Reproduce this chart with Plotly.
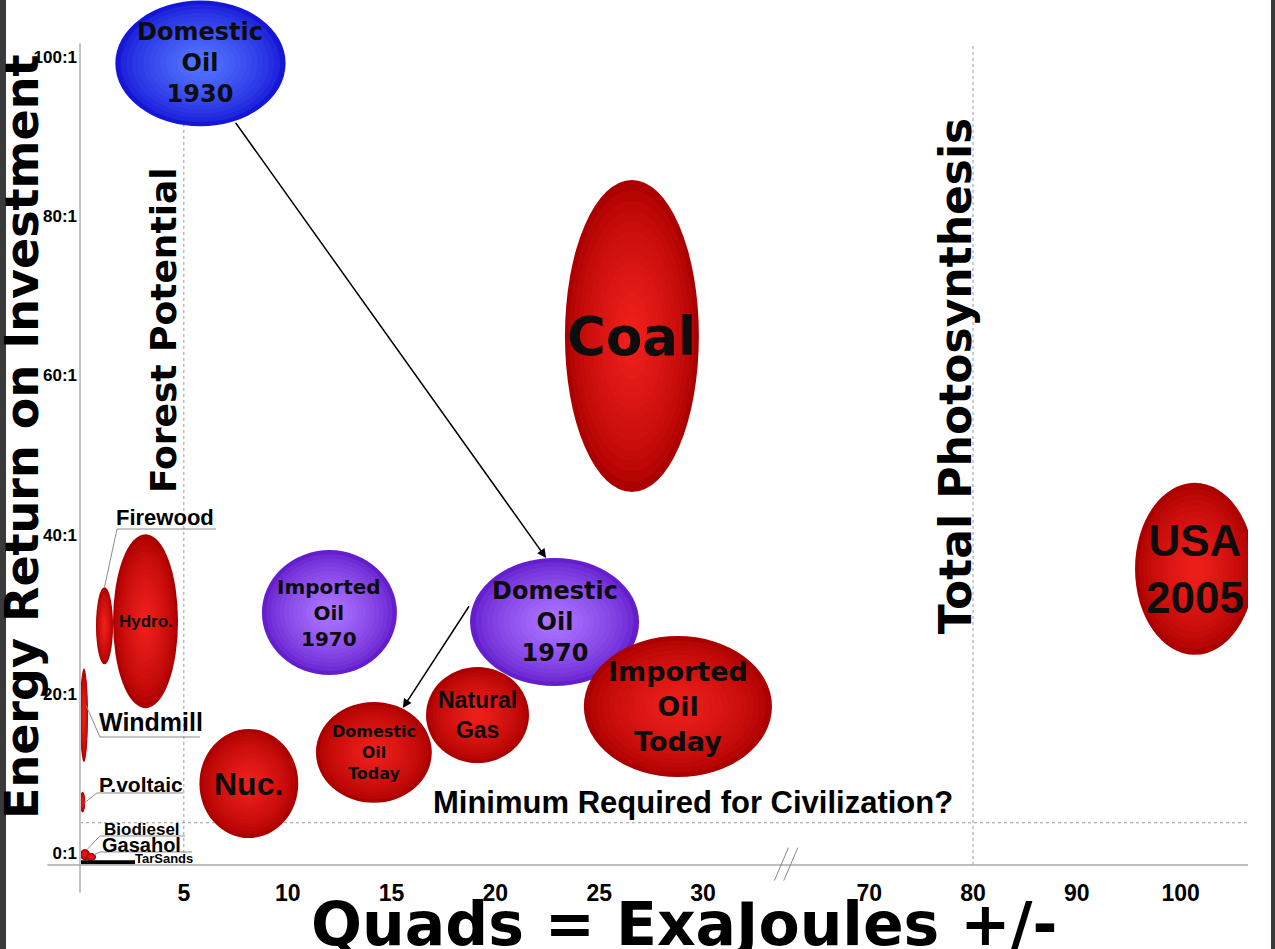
import plotly.graph_objects as go

# ---------------- data ----------------
names = ["Domestic<br>Oil<br>1930", "Coal", "USA<br>2005", "", "Hydro.", "", "",
         "", "", "Imported<br>Oil<br>1970", "Domestic<br>Oil<br>1970",
         "Natural<br>Gas", "Domestic<br>Oil<br>Today", "Imported<br>Oil<br>Today", "Nuc."]
keys = ["dom1930", "coal", "usa", "firewood", "hydro", "windmill", "pvoltaic",
        "biodiesel", "gasahol", "imp1970", "dom1970", "natgas", "domtoday", "imptoday", "nuc"]
quad_lo = [1.7, 23.35, 95.6, 0.77, 1.59, 0.0, 0.0, 0.0, 0.29, 8.76, 18.78, 16.66, 11.36, 24.26, 5.75]
quad_hi = [9.9, 29.8, 107.1, 1.59, 4.72, 0.38, 0.25, 0.48, 0.77, 15.26, 26.92, 21.62, 16.94, 33.32, 10.51]
eroi_lo = [91.3, 45.35, 24.9, 23.7, 18.2, 11.4, 5.1, -0.9, -1.0, 22.35, 20.98, 11.3, 6.3, 9.54, 1.88]
eroi_hi = [107.1, 84.55, 46.5, 33.4, 40.05, 23.2, 7.7, 0.5, 0.0, 38.05, 37.06, 23.36, 18.97, 27.26, 15.58]
group = ["blue", "red", "red", "red", "red", "red", "red", "red", "red",
         "purple", "purple", "red", "red", "red", "red"]

tarsands_quads = [0.0, 2.65]
tarsands_eroi = [-1.4, -0.9]

x_tick_quads = [5, 10, 15, 20, 25, 30, 70, 80, 90, 100]
y_tick_vals = [0, 20, 40, 60, 80, 100]
y_tick_text = ["0:1", "20:1", "40:1", "60:1", "80:1", "100:1"]

forest_potential_quads = 5
total_photosynthesis_quads = 80
minimum_eroi = 3.8


# broken x axis: 0-34 linear, 70+ compressed by half
def qx(q):
    return q if q <= 34 else 38 + (q - 70) / 2.0


X_RANGE = [0, 56.24]
Y_RANGE = [-1.507, 107.16]

BOLD = "Liberation Sans, Arial, sans-serif"
HEAVY = "DejaVu Sans, Verdana, sans-serif"

colors = {
    "red": ((172, 0, 0), (236, 30, 26)),
    "blue": ((22, 22, 215), (80, 112, 255)),
    "purple": ((100, 30, 205), (168, 112, 255)),
}


def mix(c0, c1, t):
    return "rgb(%d,%d,%d)" % tuple(round(a + (b - a) * t) for a, b in zip(c0, c1))


fig = go.Figure()
fig.add_trace(go.Scatter(x=[None], y=[None], showlegend=False))

shapes = []
annotations = []

# reference lines
grey_dash = dict(color="#9a9a9a", width=1, dash="dot")
shapes.append(dict(type="line", xref="x", yref="y", x0=qx(forest_potential_quads), x1=qx(forest_potential_quads),
                   y0=-1.5, y1=101.8, line=grey_dash, layer="below"))
shapes.append(dict(type="line", xref="x", yref="y", x0=qx(total_photosynthesis_quads), x1=qx(total_photosynthesis_quads),
                   y0=-1.5, y1=101.8, line=grey_dash, layer="below"))
shapes.append(dict(type="line", xref="x", yref="y", x0=0, x1=X_RANGE[1],
                   y0=minimum_eroi, y1=minimum_eroi, line=grey_dash, layer="below"))

# ellipses with simulated radial gradient
N = 14
order = [0, 9, 10, 1, 2, 3, 4, 5, 6, 7, 8, 12, 11, 13, 14]
info = {}
for i in order:
    x0, x1 = qx(quad_lo[i]), qx(quad_hi[i])
    y0, y1 = eroi_lo[i], eroi_hi[i]
    cx, cy = (x0 + x1) / 2, (y0 + y1) / 2
    rx, ry = (x1 - x0) / 2, (y1 - y0) / 2
    info[keys[i]] = (cx, cy, rx, ry)
    edge, center = colors[group[i]]
    for k in range(N):
        s = 1 - k * (0.92 / N)
        t = (k / (N - 1)) ** 0.7
        shapes.append(dict(type="circle", xref="x", yref="y",
                           x0=cx - rx * s, x1=cx + rx * s, y0=cy - ry * s, y1=cy + ry * s,
                           fillcolor=mix(edge, center, t), line=dict(width=0), layer="above"))

# tar sands bar
shapes.append(dict(type="rect", xref="x", yref="y", x0=qx(tarsands_quads[0]), x1=qx(tarsands_quads[1]),
                   y0=tarsands_eroi[0], y1=tarsands_eroi[1], fillcolor="black", line=dict(width=0)))

# axis lines (extending past the origin) and break marks
shapes.append(dict(type="line", xref="paper", yref="paper", x0=0, x1=0, y0=-0.032, y1=0.95,
                   line=dict(color="#c4c4c4", width=2)))
shapes.append(dict(type="line", xref="paper", yref="paper", x0=-0.028, x1=1, y0=0, y1=0,
                   line=dict(color="#a8a8a8", width=1.5)))
bx = 34 / X_RANGE[1]
for off in (-0.004, 0.004):
    shapes.append(dict(type="line", xref="paper", yref="paper", x0=bx + off - 0.006, x1=bx + off + 0.006,
                       y0=-0.018, y1=0.02, line=dict(color="#8a8a8a", width=1)))

# dark border strips
shapes.append(dict(type="rect", xref="paper", yref="paper", x0=-80 / 1168, x1=-74 / 1168, y0=-84 / 865, y1=1,
                   fillcolor="#3a3a3a", line=dict(width=0)))
shapes.append(dict(type="rect", xref="paper", yref="paper", x0=1191 / 1168, x1=1195 / 1168, y0=-84 / 865, y1=1,
                   fillcolor="#3a3a3a", line=dict(width=0)))

# ellipse labels
label_style = {
    "dom1930": (HEAVY, 24), "coal": (HEAVY, 53), "usa": (BOLD, 44),
    "hydro": (BOLD, 17), "imp1970": (HEAVY, 20), "dom1970": (HEAVY, 24),
    "natgas": (BOLD, 23), "domtoday": (HEAVY, 16), "imptoday": (HEAVY, 27),
    "nuc": (BOLD, 32),
}
for i, k in enumerate(keys):
    if not names[i]:
        continue
    fam, size = label_style[k]
    cx, cy, rx, ry = info[k]
    annotations.append(dict(x=cx, y=cy, xref="x", yref="y", text="<b>%s</b>" % names[i], showarrow=False,
                            xanchor="center", yanchor="middle",
                            font=dict(family=fam, size=size, color="#0d0d0d"), align="center"))

# arrows
cx, cy, rx, ry = info["dom1930"]
tail1 = (cx + 0.4 * rx, cy - 0.92 * ry)
cx, cy, rx, ry = info["dom1970"]
head1 = (cx - 0.1 * rx, cy + ry)
tail2 = (cx - rx, cy + 0.27 * ry)
cx, cy, rx, ry = info["domtoday"]
head2 = (cx + 0.5 * rx, cy + 0.88 * ry)
for (tx, ty), (hx, hy) in [(tail1, head1), (tail2, head2)]:
    annotations.append(dict(x=hx, y=hy, ax=tx, ay=ty, xref="x", yref="y", axref="x", ayref="y",
                            showarrow=True, arrowhead=2, arrowsize=1.2, arrowwidth=1.5, arrowcolor="black",
                            standoff=0, text=""))

# callout labels for tiny bubbles
callouts = [
    ("firewood", "Firewood", 22, (4.1, 42.2), (1.78, 6.55), 40.7, (0.0, 1.0)),
    ("windmill", "Windmill", 25, (3.42, 16.5), (0.96, 5.78), 14.57, (0.6, 0.2)),
    ("pvoltaic", "P.voltaic", 21, (2.94, 8.6), (0.82, 4.96), 7.54, (0.6, -0.1)),
    ("biodiesel", "Biodiesel", 17, (2.98, 3.0), (0.96, 5.06), 2.14, (0.4, 0.9)),
    ("gasahol", "Gasahol", 20, (2.94, 0.95), (0.96, 5.4), 0.13, (0.6, 0.6)),
]
for k, txt, size, (tx, ty), (ux0, ux1), uy, (fx, fy) in callouts:
    cx, cy, rx, ry = info[k]
    annotations.append(dict(x=tx, y=ty, xref="x", yref="y", text="<b>%s</b>" % txt, showarrow=False,
                            xanchor="center", yanchor="middle",
                            font=dict(family=BOLD, size=size, color="black")))
    shapes.append(dict(type="line", xref="x", yref="y", x0=ux0, x1=ux1, y0=uy, y1=uy,
                       line=dict(color="#8c8c8c", width=1)))
    shapes.append(dict(type="line", xref="x", yref="y", x0=ux0, y0=uy,
                       x1=cx + fx * rx, y1=cy + fy * ry, line=dict(color="#8c8c8c", width=1)))

annotations.append(dict(x=4.05, y=-0.7, xref="x", yref="y", text="<b>TarSands</b>", showarrow=False,
                        xanchor="center", yanchor="middle",
                        font=dict(family=BOLD, size=13, color="black")))

# reference line labels
annotations.append(dict(x=qx(forest_potential_quads) - 1.0, y=65.7, xref="x", yref="y",
                        text="<b>Forest Potential</b>", textangle=-90, showarrow=False,
                        xanchor="center", yanchor="middle",
                        font=dict(family=HEAVY, size=36, color="black")))
annotations.append(dict(x=qx(total_photosynthesis_quads) - 0.87, y=59.9, xref="x", yref="y",
                        text="<b>Total Photosynthesis</b>", textangle=-90, showarrow=False,
                        xanchor="center", yanchor="middle",
                        font=dict(family=HEAVY, size=44, color="black")))
annotations.append(dict(x=29.5, y=6.3, xref="x", yref="y",
                        text="<b>Minimum Required for Civilization?</b>", showarrow=False,
                        xanchor="center", yanchor="middle",
                        font=dict(family=BOLD, size=31, color="black")))

# axis titles
annotations.append(dict(x=-58 / 1168, y=(865 - 437) / 865, xref="paper", yref="paper",
                        xanchor="center", yanchor="middle",
                        text="<b>Energy Return on Investment</b>", textangle=-90, showarrow=False,
                        font=dict(family=HEAVY, size=46, color="black")))
annotations.append(dict(x=(684 - 80) / 1168, y=-(924 - 865) / 865, xref="paper", yref="paper",
                        xanchor="center", yanchor="middle",
                        text="<b>Quads = ExaJoules +/-</b>", showarrow=False,
                        font=dict(family=HEAVY, size=60, color="black")))

fig.update_layout(
    width=1275, height=949,
    margin=dict(l=80, r=27, t=0, b=84),
    paper_bgcolor="white", plot_bgcolor="white",
    showlegend=False,
    shapes=shapes, annotations=annotations,
    xaxis=dict(range=X_RANGE, showgrid=False, zeroline=False, showline=False, ticks="",
               tickvals=[qx(q) for q in x_tick_quads], ticktext=["<b>%d</b>" % q for q in x_tick_quads],
               tickfont=dict(family=BOLD, size=23, color="black"), ticklabelstandoff=12, fixedrange=True),
    yaxis=dict(range=Y_RANGE, showgrid=False, zeroline=False, showline=False, ticks="",
               tickvals=y_tick_vals, ticktext=["<b>%s</b>" % t for t in y_tick_text],
               tickfont=dict(family=BOLD, size=17, color="black"), ticklabelstandoff=2, fixedrange=True),
)

fig.write_html("out.html", config={"displayModeBar": False},
               post_script="document.body.style.margin='0';document.body.style.overflow='hidden';")
